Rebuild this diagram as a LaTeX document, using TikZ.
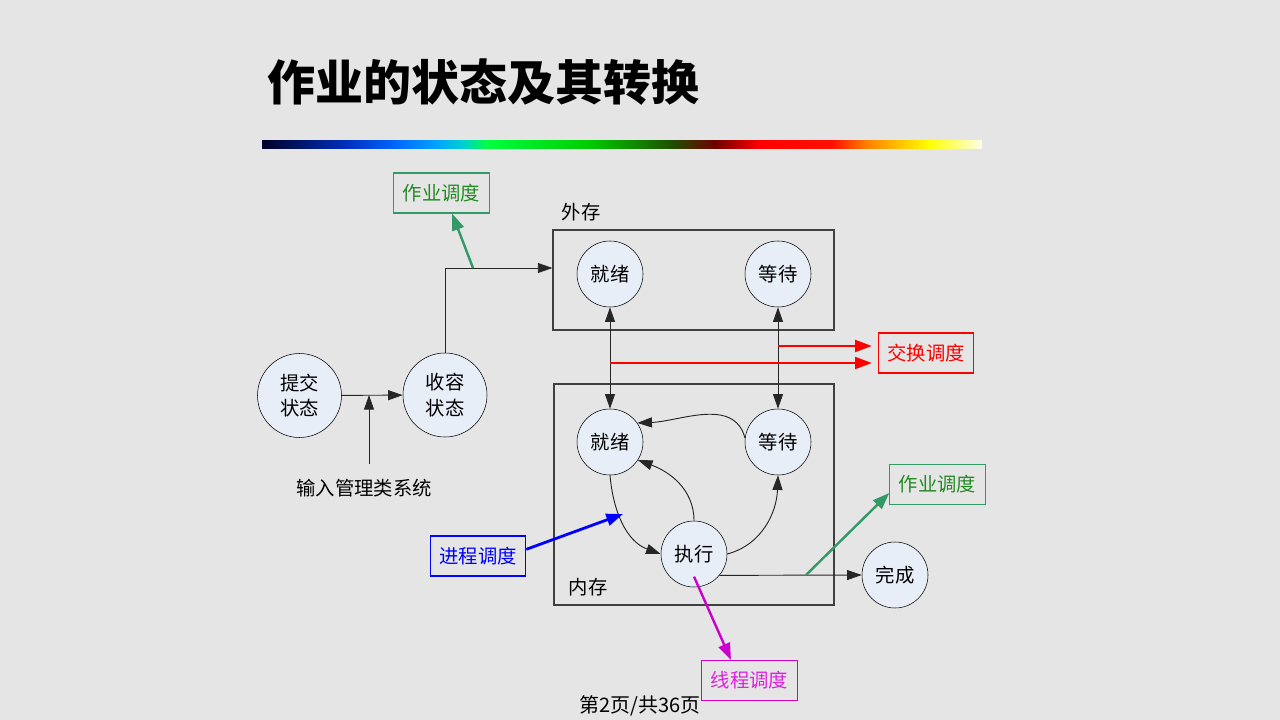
\documentclass[tikz,border=0pt]{standalone}
\usepackage{fontspec}
\newfontfamily\cjk{Noto Sans CJK SC}
\usepackage{xcolor}
\usepackage{tikz}
\usetikzlibrary{arrows.meta, calc, positioning}
\definecolor{bg}{HTML}{E5E5E5}
\definecolor{statefill}{HTML}{E8EEF7}
\definecolor{jobgreen}{HTML}{339966}
\definecolor{jobtext}{HTML}{228B22}
\definecolor{swapred}{HTML}{FF0000}
\definecolor{procblue}{HTML}{0000FF}
\definecolor{threadmag}{HTML}{CC00CC}
\definecolor{threadtext}{HTML}{E020E0}
\definecolor{b0}{HTML}{000028}
\definecolor{b1}{HTML}{0030C0}
\definecolor{b2}{HTML}{0066FF}
\definecolor{b3}{HTML}{00A0FF}
\definecolor{b4}{HTML}{00D0D0}
\definecolor{b5}{HTML}{00FF40}
\definecolor{b6}{HTML}{00CC00}
\definecolor{b7}{HTML}{1F4F00}
\definecolor{b8}{HTML}{700000}
\definecolor{b9}{HTML}{FF0000}
\definecolor{b10}{HTML}{FF1000}
\definecolor{b11}{HTML}{FF8000}
\definecolor{b12}{HTML}{FFFF00}
\definecolor{b13}{HTML}{FFFFE8}
\tikzset{
	state/.style={circle, draw=black, fill=statefill, minimum size=49.5pt, inner sep=0pt},
	bigstate/.style={state, minimum size=63pt, align=center},
	store/.style={draw=black!75, line width=0.8pt, inner sep=0pt},
	sched/.style={draw, line width=0.9pt, minimum width=71.5pt, minimum height=30pt, inner sep=0pt},
	flow/.style={line width=0.7pt, black!85},
	hint/.style={-{Triangle[length=12.5pt,width=9pt]}, line width=1.8pt}
}
\newcommand{\barcolors}{262/b0/347/b1, 347/b1/395/b2, 395/b2/434/b3, 434/b3/463/b4, 463/b4/487/b5, 487/b5/589/b6, 589/b6/672/b7, 672/b7/715/b8, 715/b8/759/b9, 759/b9/832/b10, 832/b10/866/b11, 866/b11/929/b12, 929/b12/981/b13}

\begin{document}
\begin{tikzpicture}[
	x=0.75pt, y=-0.75pt,
	>={Triangle[length=11pt,width=7.5pt]},
	font=\cjk\fontsize{14.5}{19}\selectfont]
	\fill[bg] (0,0) rectangle (1280,720);
	\useasboundingbox (0,0) rectangle (1280,720);
	\node[anchor=west, font=\cjk\bfseries\fontsize{36}{40}\selectfont] (title) at (263,82) {作业的状态及其转换};
	\foreach \xa/\ca/\xb/\cb in \barcolors
		\shade[left color=\ca, right color=\cb] (\xa,141) rectangle (\xb+0.5,148.5);

	\node[bigstate] (submit) at (299.5,395.5) {提交\\状态};
	\node[bigstate] (hold) at (445,395) {收容\\状态};
	\node (input) at (364,488) {输入管理类系统};
	\node[store, minimum width=210.75pt, minimum height=75pt] (ext) at (693.5,280) {};
	\node (extlabel) at (581,212) {外存};
	\node[state] (extready) at (610,274) {就绪};
	\node[state] (extwait) at (778,274) {等待};
	\node[store, minimum width=210pt, minimum height=165.75pt] (mem) at (694,494.5) {};
	\node (memlabel) at (588,587) {内存};
	\node[state] (ready) at (610,442) {就绪};
	\node[state] (wait) at (778,442) {等待};
	\node[state] (exec) at (694,554) {执行};
	\node[state] (done) at (895,575) {完成};
	\node[sched, draw=jobgreen, text=jobtext] (job1) at (441.5,193) {作业调度};
	\node[sched, draw=swapred, text=swapred] (swap) at (926,353) {交换调度};
	\node[sched, draw=jobgreen, text=jobtext] (job2) at (937.5,484.5) {作业调度};
	\node[sched, draw=procblue, text=procblue] (proc) at (478,556) {进程调度};
	\node[sched, draw=threadmag, text=threadtext] (thread) at (749.5,680.5) {线程调度};
	\node[font=\cjk\fontsize{15}{18}\selectfont] (page) at (640,706) {第2页/共36页};

	\coordinate (feed) at (369,464);
	\coordinate (merge) at (369,395);
	\coordinate (fork1) at (473,268);
	\coordinate (fork2) at (806,575);
	\coordinate (s1) at (778,346);
	\coordinate (s2) at (610,363);
	\coordinate (pick) at (623,514);

	\draw[flow,->] (submit) -- (hold);
	\draw[flow,->] (feed) -- (merge);
	\draw[flow,->] (hold.north) |- ([yshift=9pt]ext.west);
	\draw[hint, jobgreen] (fork1) -- ([xshift=8pt]job1.south);
	\draw[flow,<->] (extready) -- (ready);
	\draw[flow,<->] (extwait) -- (wait);
	\draw[hint, swapred, line width=1.5pt, shorten >=4.5pt] (s1) -- (s1 -| swap.west);
	\draw[hint, swapred, line width=1.5pt, shorten >=4.5pt] (s2) -- (s2 -| swap.west);
	\draw[flow,->] (wait.173) to[out=105, in=2] (ready.35);
	\draw[flow,->] (exec.north) to[out=90, in=-20] (ready.-33);
	\draw[flow,->] (ready.south) to[out=-85, in=160] (exec.west);
	\draw[flow,->] (exec.east) to[out=15, in=-92] (wait.south);
	\draw[flow,->] (exec.-40) -- (done.west);
	\draw[hint, jobgreen] (fork2) -- ([yshift=-6.4pt]job2.west);
	\draw[hint, procblue, line width=2.1pt] ([yshift=5pt]proc.east) -- (pick);
	\draw[hint, threadmag] ([yshift=-17pt]exec.center) -- ([xshift=-13.9pt]thread.north);
\end{tikzpicture}
\end{document}
